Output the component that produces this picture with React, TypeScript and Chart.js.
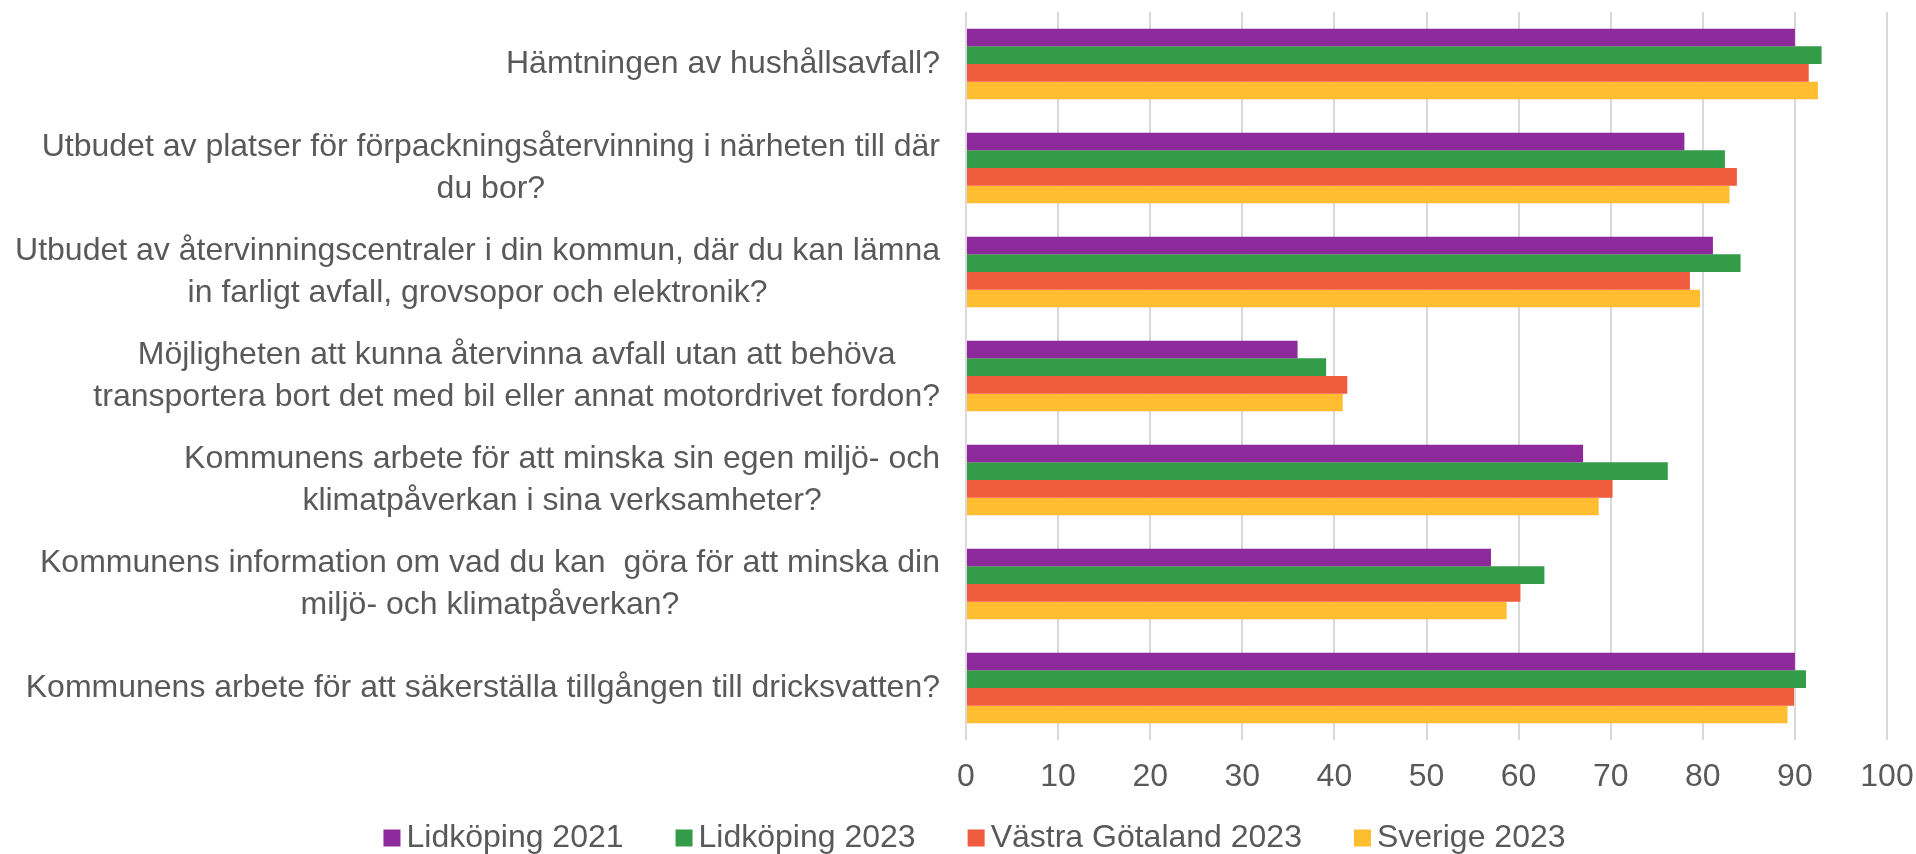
import React, { useEffect, useRef } from "react";
import { Chart, registerables } from "chart.js";

Chart.register(...registerables);

// ---- Data ----
const categories: string[][] = [
  ["Hämtningen av hushållsavfall?"],
  ["Utbudet av platser för förpackningsåtervinning i närheten till där", "du bor?"],
  ["Utbudet av återvinningscentraler i din kommun, där du kan lämna", "in farligt avfall, grovsopor och elektronik?"],
  ["Möjligheten att kunna återvinna avfall utan att behöva", "transportera bort det med bil eller annat motordrivet fordon?"],
  ["Kommunens arbete för att minska sin egen miljö- och", "klimatpåverkan i sina verksamheter?"],
  ["Kommunens information om vad du kan  göra för att minska din", "miljö- och klimatpåverkan?"],
  ["Kommunens arbete för att säkerställa tillgången till dricksvatten?"],
];

const seriesNames = ["Lidköping 2021", "Lidköping 2023", "Västra Götaland 2023", "Sverige 2023"];
const lidkoping2021 = [90.0, 78.0, 81.1, 36.0, 67.0, 57.0, 90.0];
const lidkoping2023 = [92.9, 82.4, 84.1, 39.1, 76.2, 62.8, 91.2];
const vastraGotaland2023 = [91.5, 83.7, 78.6, 41.4, 70.2, 60.2, 89.9];
const sverige2023 = [92.5, 82.9, 79.7, 40.9, 68.7, 58.7, 89.2];
const seriesColors = ["#8E299B", "#339C48", "#EF5B3D", "#FFBD2F"];

const xMin = 0;
const xMax = 100;
const xStep = 10;

// ---- Styling ----
const FONT_FAMILY = "'Liberation Sans', Arial, Helvetica, sans-serif";
const FONT_SIZE = 32;
const TEXT_COLOR = "#595959";
const GRID_COLOR = "#D9D9D9";
const LINE_H = 41.5;

const categoryLabelPlugin = {
  id: "categoryLabels",
  afterDraw(chart: any) {
    const ctx = chart.ctx;
    const yScale = chart.scales.y;
    const right = chart.chartArea.left - 26;
    ctx.save();
    ctx.font = `${FONT_SIZE}px ${FONT_FAMILY}`;
    ctx.fillStyle = TEXT_COLOR;
    ctx.textAlign = "center";
    ctx.textBaseline = "middle";
    categories.forEach((lines, i) => {
      const cy = yScale.getPixelForTick(i);
      const w = Math.max(...lines.map((l) => ctx.measureText(l).width));
      const cx = right - w / 2;
      lines.forEach((l, j) => {
        ctx.fillText(l, cx, cy + (j - (lines.length - 1) / 2) * LINE_H);
      });
    });
    ctx.restore();
  },
};

const customLegendPlugin = {
  id: "customLegend",
  afterDraw(chart: any) {
    const ctx = chart.ctx;
    const box = 17;
    const gap = 6;
    const spacing = 52;
    const cy = chart.height - 16;
    ctx.save();
    ctx.font = `${FONT_SIZE}px ${FONT_FAMILY}`;
    ctx.textBaseline = "middle";
    ctx.textAlign = "left";
    const items = chart.data.datasets.map((d: any) => ({
      text: d.label,
      color: d.backgroundColor,
      w: ctx.measureText(d.label).width,
    }));
    const total =
      items.reduce((s: number, it: any) => s + box + gap + it.w, 0) + spacing * (items.length - 1);
    let x = 974.5 - total / 2;
    items.forEach((it: any) => {
      ctx.fillStyle = it.color;
      ctx.fillRect(x, cy - box / 2, box, box);
      ctx.fillStyle = TEXT_COLOR;
      ctx.fillText(it.text, x + box + gap, cy);
      x += box + gap + it.w + spacing;
    });
    ctx.restore();
  },
};

export default function App() {
  const canvasRef = useRef<HTMLCanvasElement | null>(null);

  useEffect(() => {
    if (!canvasRef.current) return;
    const seriesValues = [lidkoping2021, lidkoping2023, vastraGotaland2023, sverige2023];
    const chart = new Chart(canvasRef.current, {
      type: "bar",
      data: {
        labels: categories,
        datasets: seriesNames.map((name, i) => ({
          label: name,
          data: seriesValues[i],
          backgroundColor: seriesColors[i],
          borderWidth: 0,
          categoryPercentage: 0.68,
          barPercentage: 1.0,
        })),
      },
      options: {
        indexAxis: "y",
        responsive: false,
        animation: false,
        devicePixelRatio: 1,
        layout: { padding: { top: 12, right: 29, bottom: 54, left: 0 } },
        plugins: {
          legend: { display: false },
          tooltip: { enabled: false },
        },
        scales: {
          x: {
            type: "linear",
            position: "bottom",
            min: xMin,
            max: xMax,
            ticks: {
              stepSize: xStep,
              color: TEXT_COLOR,
              font: { family: FONT_FAMILY, size: FONT_SIZE },
              padding: 18,
              maxRotation: 0,
            },
            grid: { color: GRID_COLOR, lineWidth: 2, drawTicks: false },
            border: { display: false },
            afterFit: (scale: any) => {
              scale.height = 60;
              scale.paddingLeft = 0;
              scale.paddingRight = 0;
            },
          },
          y: {
            type: "category",
            ticks: { display: false },
            grid: { display: false },
            border: { display: false },
            afterFit: (scale: any) => {
              scale.width = 966;
            },
          },
        },
      },
      plugins: [categoryLabelPlugin, customLegendPlugin],
    } as any);
    return () => chart.destroy();
  }, []);

  return (
    <div style={{ position: "absolute", left: 0, top: 0, width: 1916, height: 854, background: "#fff" }}>
      <canvas ref={canvasRef} width={1916} height={854} style={{ display: "block" }} />
    </div>
  );
}
